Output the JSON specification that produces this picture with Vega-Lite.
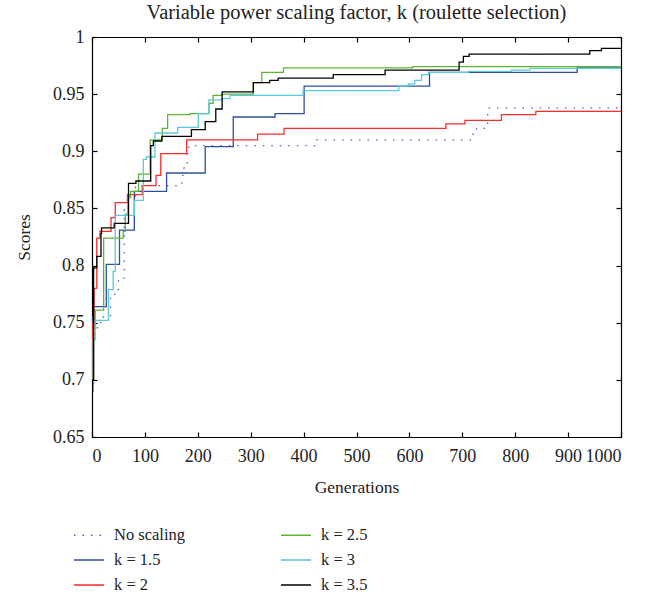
{
  "$schema": "https://vega.github.io/schema/vega-lite/v6.json",
  "width": 529,
  "height": 400,
  "autosize": {"type": "none"},
  "padding": {"left": 92, "top": 37, "right": 42, "bottom": 160},
  "title": {"text": "Variable power scaling factor, k (roulette selection)", "fontSize": 20.5, "fontWeight": "normal", "font": "Liberation Serif, DejaVu Serif, serif", "color": "#222", "baseline": "alphabetic", "offset": -11},
  "config": {"font": "Liberation Serif, DejaVu Serif, serif", "view": {"stroke": null}},
  "data": {"values": [
    {"s": "No scaling", "g": 0, "v": 0.69},
    {"s": "No scaling", "g": 3, "v": 0.74},
    {"s": "No scaling", "g": 10, "v": 0.75},
    {"s": "No scaling", "g": 20, "v": 0.755},
    {"s": "No scaling", "g": 35, "v": 0.775},
    {"s": "No scaling", "g": 50, "v": 0.789},
    {"s": "No scaling", "g": 61, "v": 0.849},
    {"s": "No scaling", "g": 69, "v": 0.859},
    {"s": "No scaling", "g": 82, "v": 0.870},
    {"s": "No scaling", "g": 170, "v": 0.879},
    {"s": "No scaling", "g": 174, "v": 0.889},
    {"s": "No scaling", "g": 180, "v": 0.898},
    {"s": "No scaling", "g": 183, "v": 0.905},
    {"s": "No scaling", "g": 425, "v": 0.910},
    {"s": "No scaling", "g": 718, "v": 0.915},
    {"s": "No scaling", "g": 727, "v": 0.920},
    {"s": "No scaling", "g": 748, "v": 0.938},
    {"s": "No scaling", "g": 1000, "v": 0.938},

    {"s": "k = 1.5", "g": 0, "v": 0.69},
    {"s": "k = 1.5", "g": 1, "v": 0.755},
    {"s": "k = 1.5", "g": 3, "v": 0.764},
    {"s": "k = 1.5", "g": 27, "v": 0.801},
    {"s": "k = 1.5", "g": 52, "v": 0.831},
    {"s": "k = 1.5", "g": 80, "v": 0.865},
    {"s": "k = 1.5", "g": 141, "v": 0.881},
    {"s": "k = 1.5", "g": 214, "v": 0.904},
    {"s": "k = 1.5", "g": 267, "v": 0.930},
    {"s": "k = 1.5", "g": 346, "v": 0.933},
    {"s": "k = 1.5", "g": 401, "v": 0.957},
    {"s": "k = 1.5", "g": 638, "v": 0.969},
    {"s": "k = 1.5", "g": 917, "v": 0.973},
    {"s": "k = 1.5", "g": 1000, "v": 0.973},

    {"s": "k = 2", "g": 0, "v": 0.69},
    {"s": "k = 2", "g": 1, "v": 0.75},
    {"s": "k = 2", "g": 4, "v": 0.78},
    {"s": "k = 2", "g": 9, "v": 0.824},
    {"s": "k = 2", "g": 15, "v": 0.830},
    {"s": "k = 2", "g": 36, "v": 0.842},
    {"s": "k = 2", "g": 44, "v": 0.855},
    {"s": "k = 2", "g": 67, "v": 0.862},
    {"s": "k = 2", "g": 95, "v": 0.870},
    {"s": "k = 2", "g": 121, "v": 0.879},
    {"s": "k = 2", "g": 130, "v": 0.898},
    {"s": "k = 2", "g": 179, "v": 0.910},
    {"s": "k = 2", "g": 313, "v": 0.915},
    {"s": "k = 2", "g": 363, "v": 0.920},
    {"s": "k = 2", "g": 669, "v": 0.924},
    {"s": "k = 2", "g": 705, "v": 0.927},
    {"s": "k = 2", "g": 774, "v": 0.932},
    {"s": "k = 2", "g": 839, "v": 0.935},
    {"s": "k = 2", "g": 1000, "v": 0.935},

    {"s": "k = 2.5", "g": 0, "v": 0.70},
    {"s": "k = 2.5", "g": 3, "v": 0.745},
    {"s": "k = 2.5", "g": 6, "v": 0.761},
    {"s": "k = 2.5", "g": 22, "v": 0.824},
    {"s": "k = 2.5", "g": 59, "v": 0.830},
    {"s": "k = 2.5", "g": 63, "v": 0.845},
    {"s": "k = 2.5", "g": 68, "v": 0.860},
    {"s": "k = 2.5", "g": 73, "v": 0.865},
    {"s": "k = 2.5", "g": 88, "v": 0.880},
    {"s": "k = 2.5", "g": 110, "v": 0.910},
    {"s": "k = 2.5", "g": 133, "v": 0.920},
    {"s": "k = 2.5", "g": 143, "v": 0.932},
    {"s": "k = 2.5", "g": 185, "v": 0.933},
    {"s": "k = 2.5", "g": 221, "v": 0.942},
    {"s": "k = 2.5", "g": 229, "v": 0.949},
    {"s": "k = 2.5", "g": 246, "v": 0.950},
    {"s": "k = 2.5", "g": 305, "v": 0.960},
    {"s": "k = 2.5", "g": 321, "v": 0.969},
    {"s": "k = 2.5", "g": 362, "v": 0.973},
    {"s": "k = 2.5", "g": 606, "v": 0.974},
    {"s": "k = 2.5", "g": 1000, "v": 0.974},

    {"s": "k = 3", "g": 0, "v": 0.70},
    {"s": "k = 3", "g": 2, "v": 0.735},
    {"s": "k = 3", "g": 6, "v": 0.752},
    {"s": "k = 3", "g": 31, "v": 0.779},
    {"s": "k = 3", "g": 40, "v": 0.795},
    {"s": "k = 3", "g": 44, "v": 0.844},
    {"s": "k = 3", "g": 80, "v": 0.857},
    {"s": "k = 3", "g": 97, "v": 0.893},
    {"s": "k = 3", "g": 103, "v": 0.895},
    {"s": "k = 3", "g": 119, "v": 0.916},
    {"s": "k = 3", "g": 162, "v": 0.921},
    {"s": "k = 3", "g": 201, "v": 0.933},
    {"s": "k = 3", "g": 221, "v": 0.945},
    {"s": "k = 3", "g": 246, "v": 0.946},
    {"s": "k = 3", "g": 261, "v": 0.949},
    {"s": "k = 3", "g": 399, "v": 0.953},
    {"s": "k = 3", "g": 580, "v": 0.957},
    {"s": "k = 3", "g": 598, "v": 0.959},
    {"s": "k = 3", "g": 610, "v": 0.962},
    {"s": "k = 3", "g": 623, "v": 0.967},
    {"s": "k = 3", "g": 636, "v": 0.969},
    {"s": "k = 3", "g": 712, "v": 0.970},
    {"s": "k = 3", "g": 793, "v": 0.971},
    {"s": "k = 3", "g": 828, "v": 0.9726},
    {"s": "k = 3", "g": 1000, "v": 0.9726},

    {"s": "k = 3.5", "g": 0, "v": 0.69},
    {"s": "k = 3.5", "g": 1, "v": 0.70},
    {"s": "k = 3.5", "g": 3, "v": 0.798},
    {"s": "k = 3.5", "g": 9, "v": 0.808},
    {"s": "k = 3.5", "g": 17, "v": 0.828},
    {"s": "k = 3.5", "g": 18, "v": 0.833},
    {"s": "k = 3.5", "g": 42, "v": 0.837},
    {"s": "k = 3.5", "g": 69, "v": 0.872},
    {"s": "k = 3.5", "g": 83, "v": 0.874},
    {"s": "k = 3.5", "g": 111, "v": 0.905},
    {"s": "k = 3.5", "g": 116, "v": 0.909},
    {"s": "k = 3.5", "g": 132, "v": 0.913},
    {"s": "k = 3.5", "g": 188, "v": 0.919},
    {"s": "k = 3.5", "g": 214, "v": 0.926},
    {"s": "k = 3.5", "g": 234, "v": 0.937},
    {"s": "k = 3.5", "g": 246, "v": 0.952},
    {"s": "k = 3.5", "g": 305, "v": 0.960},
    {"s": "k = 3.5", "g": 336, "v": 0.962},
    {"s": "k = 3.5", "g": 352, "v": 0.964},
    {"s": "k = 3.5", "g": 456, "v": 0.967},
    {"s": "k = 3.5", "g": 554, "v": 0.971},
    {"s": "k = 3.5", "g": 694, "v": 0.978},
    {"s": "k = 3.5", "g": 702, "v": 0.983},
    {"s": "k = 3.5", "g": 713, "v": 0.985},
    {"s": "k = 3.5", "g": 941, "v": 0.988},
    {"s": "k = 3.5", "g": 963, "v": 0.990},
    {"s": "k = 3.5", "g": 1000, "v": 0.990}
  ]},
  "layer": [
    {
      "mark": {"type": "line", "interpolate": "step-after", "strokeWidth": 1.3, "clip": true},
      "encoding": {
        "x": {"field": "g", "type": "quantitative", "scale": {"domain": [0, 1000], "nice": false},
          "axis": {"orient": "bottom", "title": "Generations", "values": [0,100,200,300,400,500,600,700,800,900,1000], "format": "d", "grid": false,
            "domainColor": "#000", "domainWidth": 1.2, "tickColor": "#000", "tickSize": -5, "tickWidth": 1.2,
            "labelFontSize": 18, "labelColor": "#222", "labelPadding": 15,
            "titleFontSize": 17.5, "titleFontWeight": "normal", "titleColor": "#222", "titlePadding": 13}},
        "y": {"field": "v", "type": "quantitative", "scale": {"domain": [0.65, 1], "nice": false, "zero": false},
          "axis": {"orient": "left", "title": "Scores", "values": [0.65,0.7,0.75,0.8,0.85,0.9,0.95,1], "format": "~g", "grid": false,
            "domainColor": "#000", "domainWidth": 1.2, "tickColor": "#000", "tickSize": -5, "tickWidth": 1.2,
            "labelFontSize": 18, "labelColor": "#222", "labelPadding": 13,
            "titleFontSize": 17.5, "titleFontWeight": "normal", "titleColor": "#222", "titlePadding": 19}},
        "color": {"field": "s", "type": "nominal",
          "scale": {"domain": ["No scaling", "k = 1.5", "k = 2", "k = 2.5", "k = 3", "k = 3.5"],
                    "range": ["#4a68bd", "#2c4fa3", "#ff2a2a", "#5cb531", "#5cc8dc", "#000000"]},
          "legend": {"title": null, "orient": "none", "legendX": -19, "legendY": 482, "columns": 2,
            "symbolType": "stroke", "symbolSize": 900, "symbolStrokeWidth": 1.5,
            "labelFontSize": 16.5, "labelColor": "#222", "labelOffset": 9,
            "columnPadding": 92, "rowPadding": -1}},
        "strokeDash": {"field": "s", "type": "nominal",
          "scale": {"domain": ["No scaling", "k = 1.5", "k = 2", "k = 2.5", "k = 3", "k = 3.5"],
                    "range": [[1.5, 7], [1, 0], [1, 0], [1, 0], [1, 0], [1, 0]]},
          "legend": {"title": null, "orient": "none", "legendX": -19, "legendY": 482, "columns": 2,
            "symbolType": "stroke", "symbolSize": 900, "symbolStrokeWidth": 1.5,
            "labelFontSize": 16.5, "labelColor": "#222", "labelOffset": 9,
            "columnPadding": 92, "rowPadding": -1}}
      }
    },
    {
      "mark": {"type": "line", "opacity": 0},
      "encoding": {
        "x": {"field": "g", "type": "quantitative",
          "axis": {"orient": "top", "title": null, "labels": false, "values": [0,100,200,300,400,500,600,700,800,900,1000], "grid": false,
            "domainColor": "#000", "domainWidth": 1.2, "tickColor": "#000", "tickSize": -5, "tickWidth": 1.2}},
        "y": {"field": "v", "type": "quantitative",
          "axis": {"orient": "right", "title": null, "labels": false, "values": [0.65,0.7,0.75,0.8,0.85,0.9,0.95,1], "grid": false,
            "domainColor": "#000", "domainWidth": 1.2, "tickColor": "#000", "tickSize": -5, "tickWidth": 1.2}}
      }
    }
  ]
}
